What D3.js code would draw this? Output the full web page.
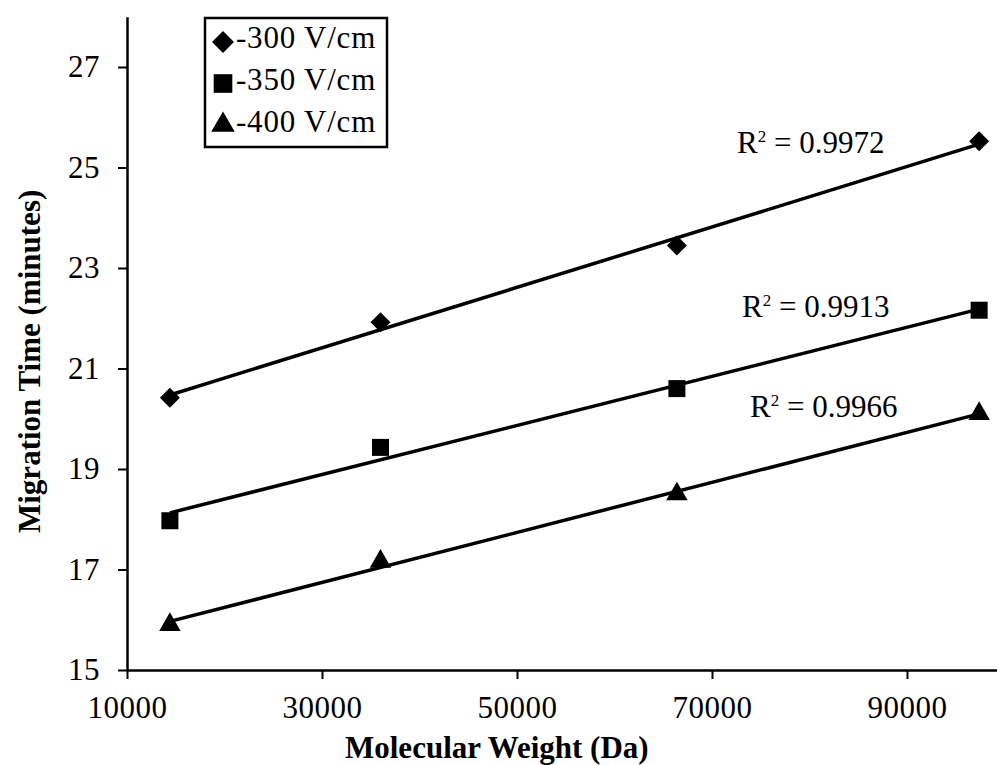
<!DOCTYPE html>
<html>
<head>
<meta charset="utf-8">
<script src="https://cdn.jsdelivr.net/npm/d3@7"></script>
<style>
  html, body { margin: 0; padding: 0; background: #fff; }
  svg { display: block; }
  text { font-family: "Liberation Serif", "Times New Roman", serif; fill: #000; }
</style>
</head>
<body>
<svg id="chart" width="997" height="765"></svg>
<script>
// ---- data ----
const molecularWeights = [14400, 36000, 66400, 97400];
const seriesNames = ["-300 V/cm", "-350 V/cm", "-400 V/cm"];
const times300 = [20.42, 21.92, 23.45, 25.52];
const times350 = [17.97, 19.43, 20.60, 22.16];
const times400 = [15.90, 17.16, 18.50, 20.10];
const rSquaredLabels = ["R\u00B2 = 0.9972", "R\u00B2 = 0.9913", "R\u00B2 = 0.9966"];
const xTicks = [10000, 30000, 50000, 70000, 90000];
const yTicks = [15, 17, 19, 21, 23, 25, 27];
const xDomain = [10000, 100000];
const yDomain = [15, 28];

// ---- layout ----
const svg = d3.select("#chart");
const x = d3.scaleLinear().domain(xDomain).range([127, 1004.5]);
const y = d3.scaleLinear().domain(yDomain).range([670, 16.75]);
const fontSize = 31;

const series = [
  { name: seriesNames[0], values: times300, symbol: "diamond", r2: rSquaredLabels[0], labelPos: [737, 153] },
  { name: seriesNames[1], values: times350, symbol: "square",  r2: rSquaredLabels[1], labelPos: [742, 317] },
  { name: seriesNames[2], values: times400, symbol: "triangle", r2: rSquaredLabels[2], labelPos: [750, 417] }
];

function symbolPath(kind, scale) {
  const k = scale || 1;
  if (kind === "diamond") return d3.symbol().type(d3.symbolSquare).size(200 * k)();
  if (kind === "square") return d3.symbol().type(d3.symbolSquare).size(289 * k)();
  return d3.symbol().type(d3.symbolTriangle).size(200 * k)();
}
function symbolTransform(kind, cx, cy) {
  return kind === "diamond" ? `translate(${cx},${cy}) rotate(45)` : `translate(${cx},${cy})`;
}

// ---- axes ----
const xAxis = d3.axisBottom(x).tickValues(xTicks).tickFormat(d3.format("d"))
  .tickSize(9).tickSizeOuter(0).tickPadding(17);
const yAxis = d3.axisLeft(y).tickValues(yTicks).tickFormat(d3.format("d"))
  .tickSize(9).tickSizeOuter(0).tickPadding(18);

const gx = svg.append("g").attr("transform", `translate(0,${y(15)})`).call(xAxis);
const gy = svg.append("g").attr("transform", `translate(${x(10000)},0)`).call(yAxis);
[gx, gy].forEach(g => {
  g.select(".domain").attr("stroke", "#000").attr("stroke-width", 2.5);
  g.selectAll(".tick line").attr("stroke", "#000").attr("stroke-width", 2);
  g.selectAll(".tick text").attr("font-family", "Liberation Serif").attr("font-size", fontSize)
    .attr("letter-spacing", 0.5).attr("fill", "#000");
});

// ---- axis titles ----
svg.append("text")
  .attr("x", 345).attr("y", 758)
  .attr("font-weight", "bold").attr("font-size", 31)
  .text("Molecular Weight (Da)");
svg.append("text")
  .attr("transform", "translate(40,533) rotate(-90)")
  .attr("font-weight", "bold").attr("font-size", 31)
  .text("Migration Time (minutes)");

// ---- regression lines + markers ----
function linReg(xs, ys) {
  const mx = d3.mean(xs), my = d3.mean(ys);
  let sxy = 0, sxx = 0;
  xs.forEach((xv, i) => { sxy += (xv - mx) * (ys[i] - my); sxx += (xv - mx) * (xv - mx); });
  const b = sxy / sxx;
  return { a: my - b * mx, b };
}

series.forEach(s => {
  const fit = linReg(molecularWeights, s.values);
  const x0 = d3.min(molecularWeights), x1 = d3.max(molecularWeights);
  svg.append("line")
    .attr("x1", x(x0)).attr("y1", y(fit.a + fit.b * x0))
    .attr("x2", x(x1)).attr("y2", y(fit.a + fit.b * x1))
    .attr("stroke", "#000").attr("stroke-width", 3.5);
  svg.append("g").selectAll("path")
    .data(molecularWeights.map((mw, i) => [mw, s.values[i]]))
    .join("path")
    .attr("d", symbolPath(s.symbol))
    .attr("transform", d => symbolTransform(s.symbol, x(d[0]), y(d[1])))
    .attr("fill", "#000");
  const t = svg.append("text").attr("x", s.labelPos[0]).attr("y", s.labelPos[1]).attr("font-size", fontSize);
  t.append("tspan").text("R");
  t.append("tspan").attr("font-size", 17).attr("dy", -11).text("2");
  t.append("tspan").attr("dy", 11).text(s.r2.replace("R\u00B2", ""));
});

// ---- legend ----
const legend = svg.append("g");
legend.append("rect").attr("x", 205).attr("y", 18).attr("width", 182).attr("height", 129)
  .attr("fill", "#fff").attr("stroke", "#000").attr("stroke-width", 2.5);
series.forEach((s, i) => {
  const cy = 42 + i * 41.5;
  legend.append("path").attr("d", symbolPath(s.symbol, 1.2))
    .attr("transform", symbolTransform(s.symbol, 223, cy)).attr("fill", "#000");
  legend.append("text").attr("x", 236).attr("y", 48 + i * 42).attr("font-size", fontSize)
    .attr("letter-spacing", 0.8).text(s.name);
});
</script>
</body>
</html>
